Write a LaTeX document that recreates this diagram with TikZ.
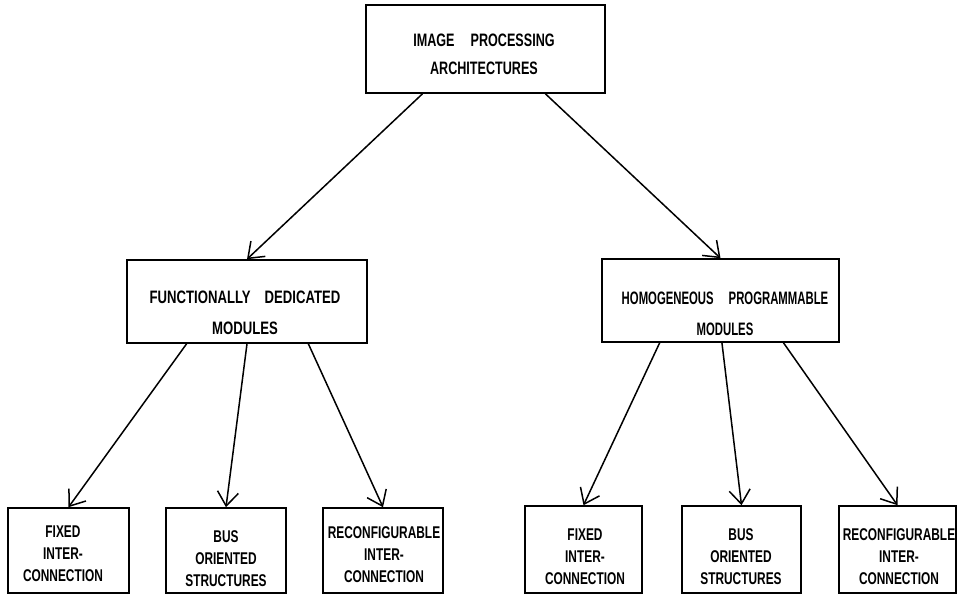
\documentclass[tikz,border=0pt]{standalone}
\usepackage{fontspec}
\setmainfont[FakeStretch=0.70,BoldFont={Liberation Sans Bold}]{Liberation Sans}
\newfontfamily\widefont[FakeStretch=0.73]{Liberation Sans Bold}
\newfontfamily\narrowfont[FakeStretch=0.63]{Liberation Sans Bold}
\usetikzlibrary{arrows.meta,calc}
\begin{document}
\begin{tikzpicture}[x=1pt,y=-1pt,
  box/.style={draw,line width=1.6pt,inner sep=0pt},
  bigtxt/.style={align=center,inner sep=0pt,font=\fontsize{18}{28}\selectfont\bfseries},
  midtxt/.style={align=center,inner sep=0pt,font=\fontsize{18}{31}\selectfont\widefont},
  midtxtb/.style={align=center,inner sep=0pt,font=\fontsize{18}{31}\selectfont\narrowfont},
  smalltxt/.style={align=center,inner sep=0pt,font=\fontsize{17}{22}\selectfont\bfseries},
  arr/.style={line width=1.5pt,-{Straight Barb[length=14pt,width=21pt,line width=1.5pt]}}]
\useasboundingbox (0,0) rectangle (961,595);
% boxes
\node[box,minimum width=239pt,minimum height=88pt] (b0) at (485.5,49) {};
\node[box,minimum width=240pt,minimum height=83pt] (m1) at (247,301.5) {};
\node[box,minimum width=237pt,minimum height=83pt] (m2) at (720.5,300.5) {};
\node[box,minimum width=121pt,minimum height=85pt] (c1) at (68.5,550.5) {};
\node[box,minimum width=120pt,minimum height=85pt] (c2) at (226,550.5) {};
\node[box,minimum width=120pt,minimum height=85pt] (c3) at (383,550.5) {};
\node[box,minimum width=117pt,minimum height=87pt] (c4) at (583.5,549.5) {};
\node[box,minimum width=119pt,minimum height=87pt] (c5) at (741.5,549.5) {};
\node[box,minimum width=117pt,minimum height=87pt] (c6) at (897.5,549.5) {};
% texts
\node[bigtxt] (t0) at (484,54) {IMAGE\hspace{16pt}PROCESSING\\ARCHITECTURES};
\node[midtxt] (t1) at (245,313) {FUNCTIONALLY\hspace{14pt}DEDICATED\\MODULES};
\node[midtxtb] (t2) at (725,314) {HOMOGENEOUS\hspace{15pt}PROGRAMMABLE\\MODULES};
\node[smalltxt] (u1) at (63,554) {FIXED\\INTER-\\CONNECTION};
\node[smalltxt] (u2) at (226,559) {BUS\\ORIENTED\\STRUCTURES};
\node[smalltxt] (u3) at (384,555) {RECONFIGURABLE\\INTER-\\CONNECTION};
\node[smalltxt] (u4) at (585,557) {FIXED\\INTER-\\CONNECTION};
\node[smalltxt] (u5) at (741,557) {BUS\\ORIENTED\\STRUCTURES};
\node[smalltxt] (u6) at (899,557) {RECONFIGURABLE\\INTER-\\CONNECTION};
% connector start points
\coordinate (s0a) at ($(b0.south west)!0.238!(b0.south east)$);
\coordinate (s0b) at ($(b0.south west)!0.749!(b0.south east)$);
\coordinate (s1a) at ($(m1.south west)!0.25!(m1.south east)$);
\coordinate (s1b) at ($(m1.south west)!0.5!(m1.south east)$);
\coordinate (s1c) at ($(m1.south west)!0.754!(m1.south east)$);
\coordinate (s2a) at ($(m2.south west)!0.245!(m2.south east)$);
\coordinate (s2b) at ($(m2.south west)!0.506!(m2.south east)$);
\coordinate (s2c) at ($(m2.south west)!0.764!(m2.south east)$);
% connectors
\draw[arr] (s0a) -- (m1.north);
\draw[arr] (s0b) -- (m2.north);
\draw[arr] (s1a) -- (c1.north);
\draw[arr] (s1b) -- (c2.north);
\draw[arr] (s1c) -- (c3.north);
\draw[arr] (s2a) -- (c4.north);
\draw[arr] (s2b) -- (c5.north);
\draw[arr] (s2c) -- (c6.north);
\end{tikzpicture}
\end{document}
